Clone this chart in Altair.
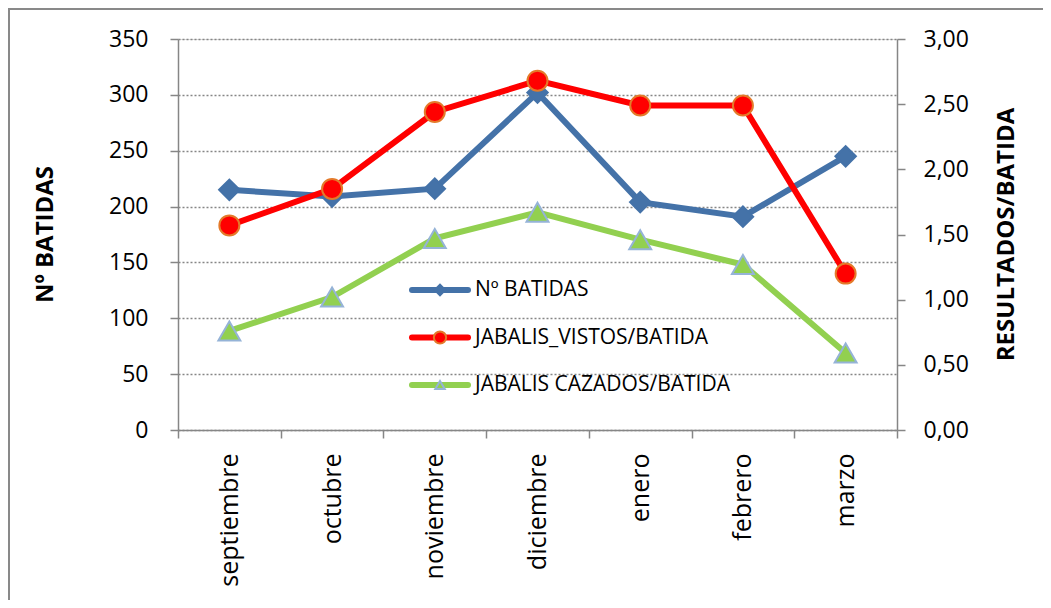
import altair as alt
import pandas as pd

months = ["septiembre", "octubre", "noviembre", "diciembre", "enero", "febrero", "marzo"]
batidas = [215, 209, 216, 302, 204, 191, 245]
vistos = [1.57, 1.85, 2.44, 2.68, 2.49, 2.49, 1.20]
cazados = [0.76, 1.02, 1.47, 1.67, 1.46, 1.27, 0.59]
series = ["Nº BATIDAS", "JABALIS_VISTOS/BATIDA", "JABALIS CAZADOS/BATIDA"]
left_ticks = [0, 50, 100, 150, 200, 250, 300, 350]
right_ticks = [0.0, 0.5, 1.0, 1.5, 2.0, 2.5, 3.0]

FONT = "Open Sans"
GRAY = "#868686"
BLUE = "#4472A8"
RED = "#FF0000"
GREEN = "#92D050"

df = pd.DataFrame({"mes": months, "batidas": batidas, "vistos": vistos, "cazados": cazados})

x = alt.X(
    "mes:N",
    sort=months,
    bandPosition=0.5,
    scale=alt.Scale(type="band", paddingInner=0, paddingOuter=0),
    axis=alt.Axis(
        title=None, labelAngle=-90, labelAlign="right", labelBaseline="middle",
        tickBand="extent", labelFontSize=25, labelPadding=15, tickSize=8,
        domainColor=GRAY, tickColor=GRAY, domainWidth=1.5, tickWidth=1.5,
        labelColor="black", labelFont=FONT, grid=False,
    ),
)

y_left = alt.Y(
    "batidas:Q",
    scale=alt.Scale(domain=[0, 350], nice=False, zero=True),
    axis=alt.Axis(
        values=left_ticks, title="Nº BATIDAS", grid=True, gridDash=[2, 2],
        gridColor=GRAY, gridWidth=1.3, labelFontSize=23, labelPadding=22,
        tickSize=8, domainColor=GRAY, tickColor=GRAY, domainWidth=1.5, tickWidth=1.5,
        labelColor="black", labelFont=FONT, titleFont=FONT, titleFontSize=24,
        titleFontWeight="bold", titleAngle=-90, titleAlign="center",
        titleBaseline="middle", titleX=-133, titleY=195, titleColor="black",
    ),
)


def y_right(field):
    return alt.Y(
        f"{field}:Q",
        scale=alt.Scale(domain=[0, 3], nice=False, zero=True),
        axis=alt.Axis(
            orient="right", values=right_ticks, title="RESULTADOS/BATIDA", grid=False,
            labelExpr="replace(format(datum.value, '.2f'), '.', ',')",
            labelFontSize=23, labelPadding=18, tickSize=8, domainColor=GRAY,
            tickColor=GRAY, domainWidth=1.5, tickWidth=1.5, labelColor="black",
            labelFont=FONT, titleFont=FONT, titleFontSize=24, titleFontWeight="bold",
            titleAngle=-90, titleAlign="center", titleBaseline="middle",
            titleX=109, titleY=195, titleColor="black",
        ),
    )


base = alt.Chart(df)

blue = alt.layer(
    base.mark_line(color=BLUE, strokeWidth=6, clip=False).encode(x=x, y=y_left),
    base.mark_point(shape="diamond", filled=True, fill=BLUE, stroke=BLUE, size=420,
                    opacity=1, clip=False).encode(x=x, y=y_left),
)

right = alt.layer(
    base.mark_line(color=RED, strokeWidth=6, clip=False).encode(x=x, y=y_right("vistos")),
    base.mark_point(shape="circle", filled=True, fill=RED, stroke="#E47A2A", strokeWidth=2,
                    size=400, opacity=1, clip=False).encode(x=x, y=y_right("vistos")),
    base.mark_line(color=GREEN, strokeWidth=6, clip=False).encode(x=x, y=y_right("cazados")),
    base.mark_point(shape="triangle-up", filled=True, fill=GREEN, stroke="#95B3D7",
                    strokeWidth=2, size=480, opacity=1, clip=False).encode(x=x, y=y_right("cazados")),
)

main = alt.layer(blue, right).resolve_scale(y="independent")

# legend drawn inside the plot
leg_layers = []
leg_colors = [BLUE, RED, GREEN]
leg_shapes = ["diamond", "circle", "triangle-up"]
leg_strokes = [BLUE, "#E47A2A", "#95B3D7"]
leg_sizes = [110, 150, 90]
for i, name in enumerate(series):
    ly = 251 + 47.5 * i
    ldf = pd.DataFrame({"s": [name]})
    lc = alt.Chart(ldf)
    leg_layers.append(
        lc.mark_rule(color=leg_colors[i], strokeWidth=6, strokeCap="round").encode(
            x=alt.value(234), x2=alt.value(290), y=alt.value(ly))
    )
    leg_layers.append(
        lc.mark_point(shape=leg_shapes[i], filled=True, fill=leg_colors[i],
                      stroke=leg_strokes[i], strokeWidth=2, size=leg_sizes[i], opacity=1).encode(
            x=alt.value(262), y=alt.value(ly))
    )
    leg_layers.append(
        lc.mark_text(align="left", baseline="middle", font=FONT, fontSize=21, color="black").encode(
            x=alt.value(297), y=alt.value(ly), text="s:N")
    )

frame = alt.Chart(pd.DataFrame({"a": [0]})).mark_rect(
    fillOpacity=0, stroke="#898989", strokeWidth=2, clip=False
).encode(x=alt.value(-169), y=alt.value(-30), x2=alt.value(1100), y2=alt.value(800))

chart = alt.layer(frame, main, *leg_layers).properties(
    width=719, height=391,
    padding={"left": 170, "top": 31, "right": 146, "bottom": 170},
    autosize=alt.AutoSizeParams(type="none"),
).configure_view(stroke=None).configure(font=FONT)

chart.save("out.html", embed_options={"renderer": "svg", "actions": False})
